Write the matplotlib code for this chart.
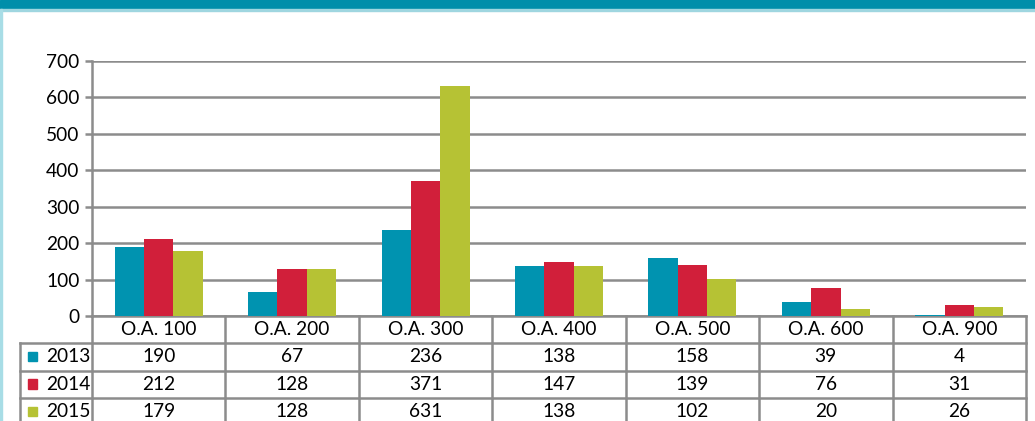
import matplotlib.pyplot as plt
from matplotlib.transforms import blended_transform_factory
from matplotlib.patches import Rectangle
import numpy as np

plt.rcParams['font.family'] = ['Lato', 'DejaVu Sans']

categories = ['O.A. 100', 'O.A. 200', 'O.A. 300', 'O.A. 400', 'O.A. 500', 'O.A. 600', 'O.A. 900']
years = ['2013', '2014', '2015']
v2013 = [190, 67, 236, 138, 158, 39, 4]
v2014 = [212, 128, 371, 147, 139, 76, 31]
v2015 = [179, 128, 631, 138, 102, 20, 26]
series = [v2013, v2014, v2015]
colors = ['#0093b0', '#d11f3a', '#b6c234']

W, H = 1035, 421
fig = plt.figure(figsize=(W / 100, H / 100), dpi=100)

# banner and left border
fig.patches.append(Rectangle((0, 1 - 9 / H), 1, 9 / H, transform=fig.transFigure,
                             color='#008eaa', zorder=0))
fig.patches.append(Rectangle((0, 1 - 11 / H), 1, 2 / H, transform=fig.transFigure,
                             color='#9fd6e0', zorder=0))
fig.patches.append(Rectangle((0, 0), 2 / W, 1 - 9 / H, transform=fig.transFigure,
                             color='#a8dde6', zorder=0))

left, right, top, bottom = 92, 1026, 61, 316
ax = fig.add_axes([left / W, 1 - bottom / H, (right - left) / W, (bottom - top) / H])

x = np.arange(len(categories))
bw = 0.22
for i, (vals, c) in enumerate(zip(series, colors)):
    ax.bar(x + (i - 1) * bw, vals, width=bw, color=c, zorder=3)

fs = 13.8
ax.set_xlim(-0.5, len(categories) - 0.5)
ax.set_ylim(0, 700)
ax.set_yticks(range(0, 701, 100))
ax.yaxis.grid(True, color='#8c8c8c', linewidth=1.8, zorder=0)
ax.set_xticks([])
for s in ['top', 'right', 'bottom']:
    ax.spines[s].set_visible(False)
ax.spines['left'].set_color('#8c8c8c')
ax.spines['left'].set_linewidth(1.8)
ax.tick_params(axis='y', length=5, width=1.8, color='#8c8c8c', labelsize=fs, pad=4)

# data table beneath the axis
tr = blended_transform_factory(ax.transData, ax.transAxes)
ah = bottom - top
row_h = 27.3 / ah
lc = '#8c8c8c'
lw = 1.8
legend_left = -0.5 - (left - 20) / ((right - left) / len(categories))
n = len(categories)

# horizontal lines
ax.plot([-0.5, n - 0.5], [0, 0], transform=tr, color=lc, lw=lw, clip_on=False)
for r in range(1, 5):
    ax.plot([legend_left, n - 0.5], [-r * row_h, -r * row_h], transform=tr,
            color=lc, lw=lw, clip_on=False)
# vertical lines
for k in range(n + 1):
    ax.plot([k - 0.5, k - 0.5], [0, -4 * row_h], transform=tr, color=lc, lw=lw, clip_on=False)
ax.plot([legend_left, legend_left], [-row_h, -4 * row_h], transform=tr, color=lc, lw=lw,
        clip_on=False)

for k, cat in enumerate(categories):
    ax.text(k, -0.5 * row_h, cat, transform=tr, ha='center', va='center', fontsize=fs)
for r, (yr, vals, c) in enumerate(zip(years, series, colors)):
    yc = -(r + 1.5) * row_h
    for k, v in enumerate(vals):
        ax.text(k, yc, str(v), transform=tr, ha='center', va='center', fontsize=fs)
    ax.text(-0.5 - 0.01, yc, yr, transform=tr, ha='right', va='center', fontsize=fs)
    ax.add_patch(Rectangle((legend_left + 0.06, yc - 0.017), 0.065, 0.036, transform=tr,
                           color=c, clip_on=False))

fig.savefig('out.png', dpi=100)
